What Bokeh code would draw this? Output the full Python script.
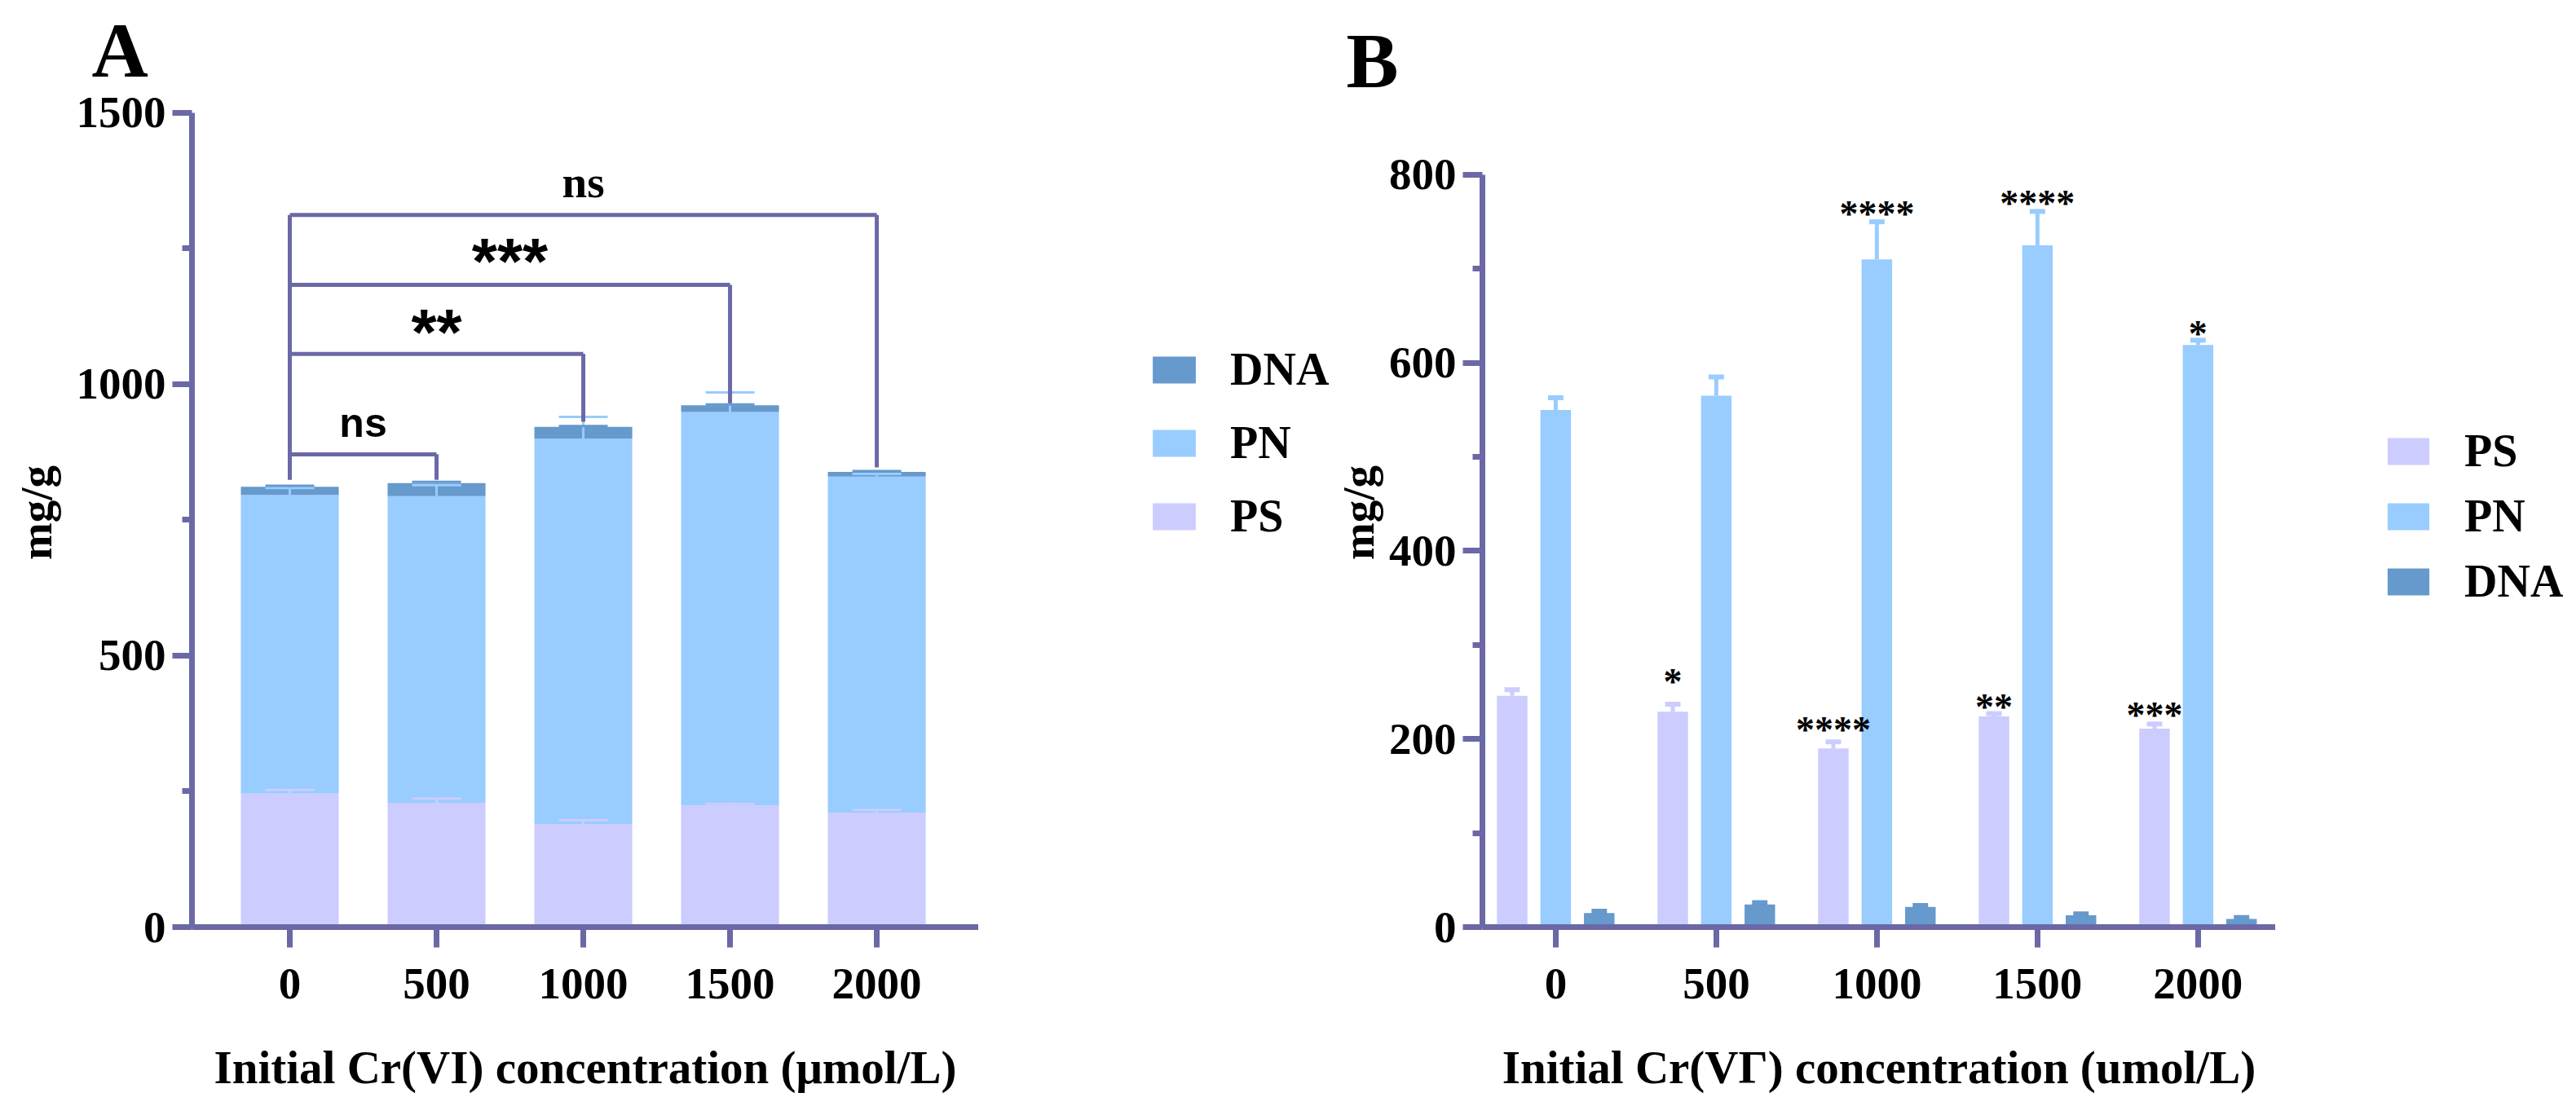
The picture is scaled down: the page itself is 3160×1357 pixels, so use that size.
import numpy as np
from bokeh.plotting import figure
from bokeh.layouts import row
from bokeh.models import FixedTicker, Legend, LegendItem, Range1d, Title
from bokeh.core.properties import value
from bokeh.embed import file_html
from bokeh.resources import INLINE

# ---------------- data ----------------
categories = ["0", "500", "1000", "1500", "2000"]
ps = [246, 229, 190, 224, 211]
pn = [550, 565, 710, 725, 619]
dna = [15, 24, 21.5, 12.5, 8.7]
ps_sd = [6.5, 8, 7, 3, 5]
pn_sd = [13, 20, 40, 36, 5]
dna_sd = [2, 2, 1.5, 1.5, 1.5]

# panel A: comparisons against the 0 group
cmp_target = [1, 2, 3, 4]
cmp_label = ["ns", "**", "***", "ns"]
cmp_height = [871, 1056, 1183, 1312]
cmp_drop = [824, 931, 965, 847]
cmp_text_y = [929, 1096, 1227, 1372]

# panel B: significance marks
sig_cat = [1, 2, 3, 4, 2, 3, 4]
sig_series = ["PS", "PS", "PS", "PS", "PN", "PN", "PN"]
sig_text = ["*", "****", "**", "***", "****", "****", "*"]
sig_y = [261, 210, 234, 225, 758, 770, 631]

# ---------------- style ----------------
C_PS = "#CCCCFF"
C_PN = "#99CCFF"
C_DNA = "#6699CC"
AXC = "#6B68A6"
SERIF = "Liberation Serif"
SANS = "Liberation Sans"
FS = "55px"
H = 1357
TOP = 120
BOTTOM = 220

idx = np.arange(len(categories), dtype=float)
ps_a = np.array(ps, float)
pn_a = np.array(pn, float)
dna_a = np.array(dna, float)


def style_axes(p, yticks, yminor, ybounds, y_std):
    p.xgrid.visible = False
    p.ygrid.visible = False
    p.outline_line_color = None
    p.background_fill_color = "white"
    p.border_fill_color = "white"
    for ax in (p.xaxis[0], p.yaxis[0]):
        ax.axis_line_color = AXC
        ax.axis_line_width = 7
        ax.major_tick_line_color = AXC
        ax.major_tick_line_width = 7
        ax.minor_tick_line_color = AXC
        ax.minor_tick_line_width = 7
        ax.major_tick_in = 0
        ax.minor_tick_in = 0
        ax.major_label_text_font = SERIF
        ax.major_label_text_font_style = "bold"
        ax.major_label_text_font_size = FS
        ax.major_label_text_color = "black"
        ax.axis_label_text_font = SERIF
        ax.axis_label_text_font_style = "bold"
        ax.axis_label_text_color = "black"
    p.yaxis[0].axis_label_text_font_size = FS
    p.xaxis[0].axis_label_text_font_size = "57px"
    p.yaxis[0].ticker = FixedTicker(ticks=yticks, minor_ticks=yminor)
    p.yaxis[0].bounds = ybounds
    p.yaxis[0].major_tick_out = 24
    p.yaxis[0].minor_tick_out = 12
    p.yaxis[0].major_label_standoff = 8
    p.yaxis[0].axis_label_standoff = y_std
    p.xaxis[0].ticker = FixedTicker(ticks=list(idx), minor_ticks=[])
    p.xaxis[0].major_label_overrides = {float(i): c for i, c in enumerate(categories)}
    p.xaxis[0].major_tick_out = 25
    p.xaxis[0].minor_tick_out = 0
    p.xaxis[0].major_label_standoff = 26
    p.xaxis[0].axis_label_standoff = 50


def add_letter(p, letter, loff, lstand, valign):
    p.add_layout(Title(text=letter, align="left", offset=loff, standoff=lstand, vertical_align=valign,
                       text_font=SERIF, text_font_style="bold", text_font_size="96px",
                       text_color="black"), "above")


def legend_figure(width, entries, loc, spacing, glyph_w, standoff):
    f = figure(width=width, height=H, output_backend="svg", toolbar_location=None,
               x_range=Range1d(0, 1), y_range=Range1d(0, 1),
               x_axis_location=None, y_axis_location=None,
               min_border_left=0, min_border_right=0, min_border_top=TOP, min_border_bottom=BOTTOM)
    f.grid.visible = False
    f.outline_line_color = None
    items = []
    for name, col in entries:
        # zero-height placeholder bar: only provides the legend swatch
        r = f.vbar(x=[0.5], width=0.1, bottom=[0], top=[0], fill_color=col, line_color=None)
        items.append(LegendItem(label=name, renderers=[r]))
    leg = Legend(items=items, location=loc, glyph_width=glyph_w, glyph_height=41, label_height=62,
                 spacing=spacing, label_standoff=standoff, padding=0, margin=0,
                 border_line_color=None, background_fill_alpha=0,
                 label_text_font=SERIF, label_text_font_style="bold", label_text_font_size="56px",
                 label_text_color="black")
    f.add_layout(leg, "center")
    return f


# ---------------- panel A (stacked) ----------------
pA = figure(width=1200, height=H, output_backend="svg", toolbar_location=None,
            x_range=Range1d(-0.6667, 4.694), y_range=Range1d(0, 1527),
            min_border_left=235, min_border_right=0, min_border_top=TOP, min_border_bottom=BOTTOM,
            x_axis_label="Initial Cr(VI) concentration (μmol/L)", y_axis_label="mg/g")
style_axes(pA, [0, 500, 1000, 1500], [250, 750, 1250], (0, 1500), 16)
add_letter(pA, "A", -123, 8, "top")

bw_a = 0.667
ps_top = ps_a
pn_top = ps_a + pn_a
dna_top = pn_top + dna_a
pA.vbar(x=idx, width=bw_a, bottom=0, top=ps_top, fill_color=C_PS, line_color=None)
pA.vbar(x=idx, width=bw_a, bottom=ps_top, top=pn_top, fill_color=C_PN, line_color=None)
pA.vbar(x=idx, width=bw_a, bottom=pn_top, top=dna_top, fill_color=C_DNA, line_color=None)

capw_a = 0.333
for top, sd, col in ((ps_top, ps_sd, C_PS), (pn_top, pn_sd, C_PN), (dna_top, dna_sd, C_DNA)):
    hi = top + np.array(sd, float)
    pA.segment(x0=idx, y0=top, x1=idx, y1=hi, line_color=col, line_width=3)
    pA.segment(x0=idx - capw_a / 2, y0=hi, x1=idx + capw_a / 2, y1=hi, line_color=col, line_width=3)

# comparison brackets
tgt = np.array(cmp_target, float)
hgt = np.array(cmp_height, float)
drp = np.array(cmp_drop, float)
pA.segment(x0=[0.0], y0=[cmp_drop[0]], x1=[0.0], y1=[max(cmp_height)], line_color=AXC, line_width=5)
pA.segment(x0=np.zeros_like(tgt), y0=hgt, x1=tgt, y1=hgt, line_color=AXC, line_width=5)
pA.segment(x0=tgt, y0=hgt, x1=tgt, y1=drp, line_color=AXC, line_width=5)
for t, lab, ty in zip(cmp_target, cmp_label, cmp_text_y):
    xm = t / 2.0
    if lab == "ns" and t == 4:
        font, size = SERIF, "55px"
    elif lab == "ns":
        font, size = SANS, "50px"
    else:
        font, size = SANS, "80px"
    pA.text(x=[xm], y=[ty], text=[lab], text_font=value(font), text_font_style="bold",
            text_font_size=size, text_align="center", text_baseline="alphabetic", text_color="black")

legA = legend_figure(432, [("DNA", C_DNA), ("PN", C_PN), ("PS", C_PS)], (207, 472), 26, 66, 36)

# ---------------- panel B (grouped) ----------------
pB = figure(width=1159, height=H, output_backend="svg", toolbar_location=None,
            x_range=Range1d(-0.4564, 4.483), y_range=Range1d(0, 881.4),
            min_border_left=185, min_border_right=0, min_border_top=TOP, min_border_bottom=BOTTOM,
            x_axis_label="Initial Cr(VΓ) concentration (umol/L)", y_axis_label="mg/g")
style_axes(pB, [0, 200, 400, 600, 800], [100, 300, 500, 700], (0, 800), 4)
add_letter(pB, "B", -167, -14, "bottom")

bw_b = 0.19
off = 0.271
series = {"PS": (ps_a, ps_sd, C_PS, -off), "PN": (pn_a, pn_sd, C_PN, 0.0), "DNA": (dna_a, dna_sd, C_DNA, off)}
capw_b = 0.096
for name, (vals, sd, col, o) in series.items():
    xs = idx + o
    hi = vals + np.array(sd, float)
    pB.segment(x0=xs, y0=vals, x1=xs, y1=hi, line_color=col, line_width=5)
    pB.segment(x0=xs - capw_b / 2, y0=hi, x1=xs + capw_b / 2, y1=hi, line_color=col, line_width=6)
    pB.vbar(x=xs, width=bw_b, bottom=0, top=vals, fill_color=col, line_color=None)

sx = [sig_cat[i] + series[sig_series[i]][3] for i in range(len(sig_cat))]
pB.text(x=sx, y=sig_y, text=sig_text, text_font=value(SERIF), text_font_style="bold",
        text_font_size="46px", text_align="center", text_baseline="alphabetic", text_color="black")

legB = legend_figure(360, [("PS", C_PS), ("PN", C_PN), ("DNA", C_DNA)], (131, 392), 16, 64, 37)

layout = row(pA, legA, pB, legB)
open("out.html", "w").write(file_html(layout, INLINE))
